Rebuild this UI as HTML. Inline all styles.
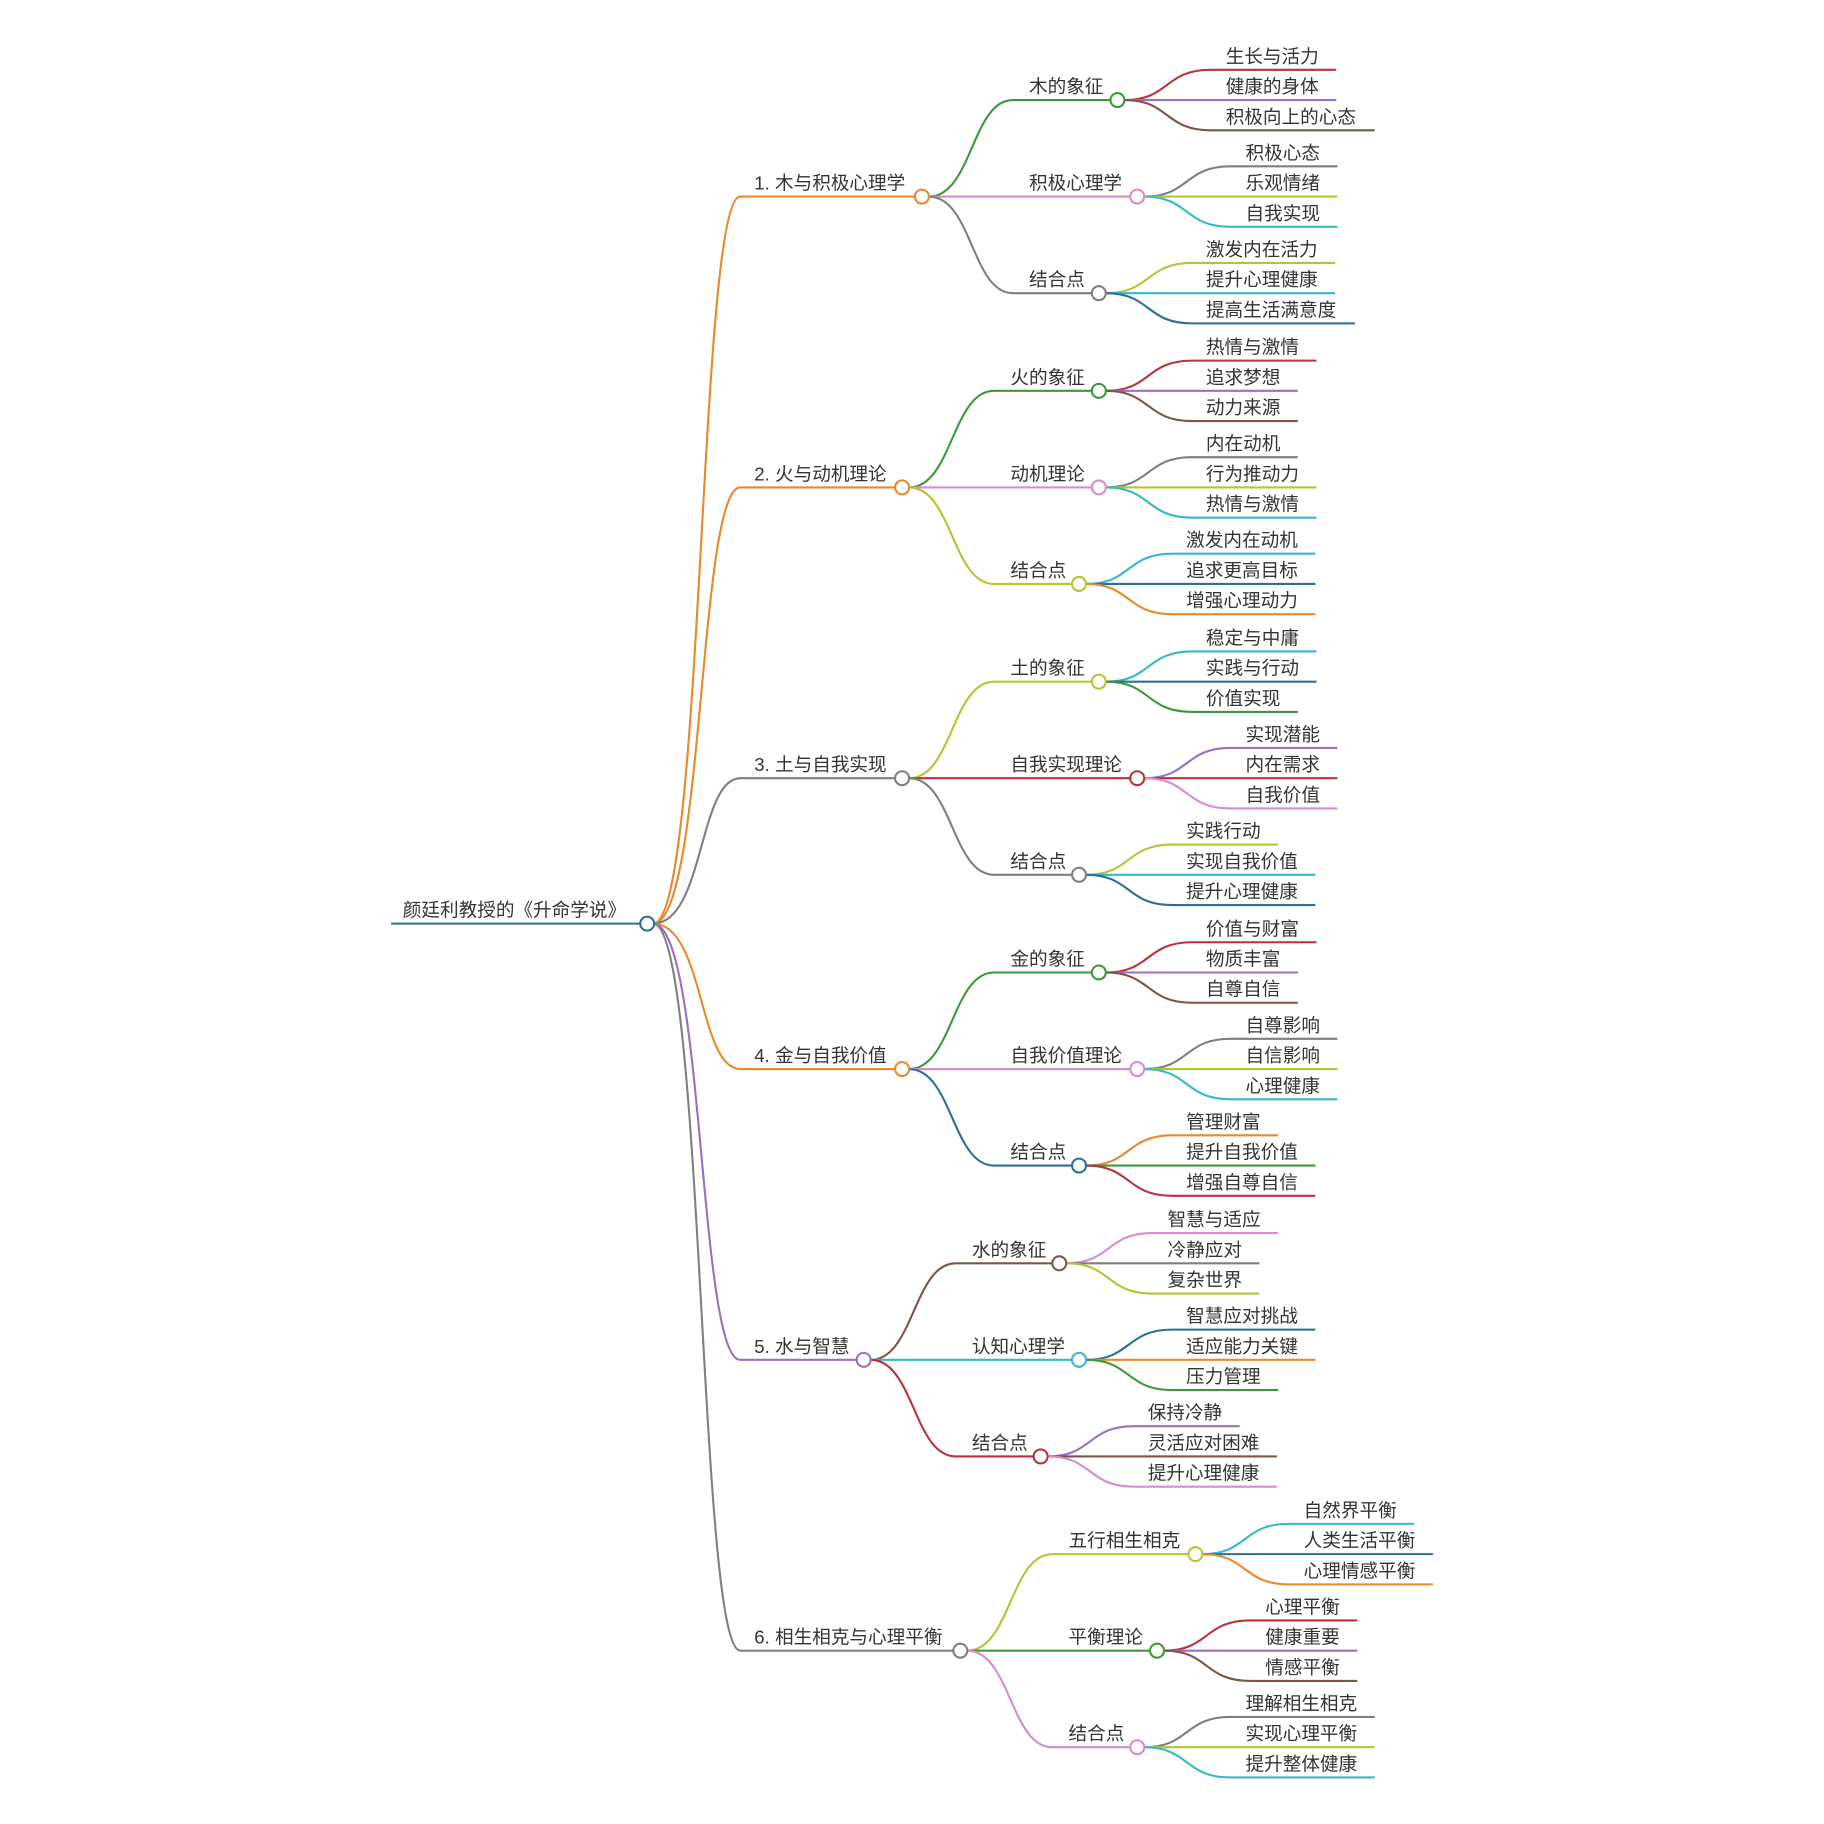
<!DOCTYPE html>
<html><head><meta charset="utf-8"><style>
html,body{margin:0;padding:0;background:#fff;}
svg{display:block}
text{font-family:"Liberation Sans","Noto Sans CJK SC",sans-serif;font-size:16px;fill:#333;}
path{fill:none;stroke-width:1.8}
circle{fill:#fff;stroke-width:1.8}
</style></head><body>
<svg width="1824" height="1824" viewBox="0 0 1567 1568" preserveAspectRatio="none" xmlns="http://www.w3.org/2000/svg">
<!-- root -->
<path d="M336 794 L550 794" stroke="#2a6f9a"/>
<text x="346" y="788">颜廷利教授的《升命学说》</text>

<!-- level1 connectors -->
<path d="M561 794 C605 794 600 169 636 169 L786 169" stroke="#e8892b"/>
<path d="M561 794 C605 794 600 419 636 419 L769 419" stroke="#e8892b"/>
<path d="M561 794 C605 794 600 669 636 669 L769 669" stroke="#7f7f7f"/>
<path d="M561 794 C605 794 600 919 636 919 L769 919" stroke="#e8892b"/>
<path d="M561 794 C605 794 600 1169 636 1169 L736 1169" stroke="#9b6fc0"/>
<path d="M561 794 C605 794 600 1419 636 1419 L819 1419" stroke="#7f7f7f"/>
<circle cx="556" cy="794" r="6" stroke="#2a6f9a"/>
<text x="648" y="163">1. 木与积极心理学</text>
<text x="648" y="413">2. 火与动机理论</text>
<text x="648" y="663">3. 土与自我实现</text>
<text x="648" y="913">4. 金与自我价值</text>
<text x="648" y="1163">5. 水与智慧</text>
<text x="648" y="1413">6. 相生相克与心理平衡</text>

<!-- G1 -->
<path d="M798 169 C835 169 835 86 870 86 L954 86" stroke="#3a9a3a"/>
<path d="M798 169 L971 169" stroke="#d98bd0"/>
<path d="M798 169 C835 169 835 252 870 252 L938 252" stroke="#7f7f7f"/>
<circle cx="792" cy="169" r="6" stroke="#e8892b"/>
<text x="884" y="80">木的象征</text><text x="884" y="163">积极心理学</text><text x="884" y="246">结合点</text>
<path d="M966 86 C1005 86 1000 60 1040 60 L1148 60" stroke="#b8323a"/>
<path d="M966 86 L1148 86" stroke="#9b6fc0"/>
<path d="M966 86 C1005 86 1000 112 1040 112 L1181 112" stroke="#7a5548"/>
<circle cx="960" cy="86" r="6" stroke="#3a9a3a"/>
<text x="1053" y="54">生长与活力</text><text x="1053" y="80">健康的身体</text><text x="1053" y="106">积极向上的心态</text>
<path d="M983 169 C1022 169 1017 143 1057 143 L1149 143" stroke="#7f7f7f"/>
<path d="M983 169 L1149 169" stroke="#b8c234"/>
<path d="M983 169 C1022 169 1017 195 1057 195 L1149 195" stroke="#35b9c9"/>
<circle cx="977" cy="169" r="6" stroke="#d98bd0"/>
<text x="1070" y="137">积极心态</text><text x="1070" y="163">乐观情绪</text><text x="1070" y="189">自我实现</text>
<path d="M950 252 C989 252 984 226 1024 226 L1147 226" stroke="#b8c234"/>
<path d="M950 252 L1147 252" stroke="#35b9c9"/>
<path d="M950 252 C989 252 984 278 1024 278 L1164 278" stroke="#2a6f9a"/>
<circle cx="944" cy="252" r="6" stroke="#7f7f7f"/>
<text x="1036" y="220">激发内在活力</text><text x="1036" y="246">提升心理健康</text><text x="1036" y="272">提高生活满意度</text>

<!-- G2 -->
<path d="M781 419 C818 419 818 336 854 336 L938 336" stroke="#3a9a3a"/>
<path d="M781 419 L938 419" stroke="#d98bd0"/>
<path d="M781 419 C818 419 818 502 854 502 L921 502" stroke="#b8c234"/>
<circle cx="775" cy="419" r="6" stroke="#e8892b"/>
<text x="868" y="330">火的象征</text><text x="868" y="413">动机理论</text><text x="868" y="496">结合点</text>
<path d="M950 336 C989 336 984 310 1024 310 L1131 310" stroke="#b8323a"/>
<path d="M950 336 L1115 336" stroke="#9b6fc0"/>
<path d="M950 336 C989 336 984 362 1024 362 L1115 362" stroke="#7a5548"/>
<circle cx="944" cy="336" r="6" stroke="#3a9a3a"/>
<text x="1036" y="304">热情与激情</text><text x="1036" y="330">追求梦想</text><text x="1036" y="356">动力来源</text>
<path d="M950 419 C989 419 984 393 1024 393 L1115 393" stroke="#7f7f7f"/>
<path d="M950 419 L1131 419" stroke="#b8c234"/>
<path d="M950 419 C989 419 984 445 1024 445 L1131 445" stroke="#35b9c9"/>
<circle cx="944" cy="419" r="6" stroke="#d98bd0"/>
<text x="1036" y="387">内在动机</text><text x="1036" y="413">行为推动力</text><text x="1036" y="439">热情与激情</text>
<path d="M933 502 C972 502 967 476 1007 476 L1130 476" stroke="#35b9c9"/>
<path d="M933 502 L1130 502" stroke="#2a6f9a"/>
<path d="M933 502 C972 502 967 528 1007 528 L1130 528" stroke="#e8892b"/>
<circle cx="927" cy="502" r="6" stroke="#b8c234"/>
<text x="1019" y="470">激发内在动机</text><text x="1019" y="496">追求更高目标</text><text x="1019" y="522">增强心理动力</text>

<!-- G3 -->
<path d="M781 669 C818 669 818 586 854 586 L938 586" stroke="#b8c234"/>
<path d="M781 669 L971 669" stroke="#b8323a"/>
<path d="M781 669 C818 669 818 752 854 752 L921 752" stroke="#7f7f7f"/>
<circle cx="775" cy="669" r="6" stroke="#7f7f7f"/>
<text x="868" y="580">土的象征</text><text x="868" y="663">自我实现理论</text><text x="868" y="746">结合点</text>
<path d="M950 586 C989 586 984 560 1024 560 L1131 560" stroke="#35b9c9"/>
<path d="M950 586 L1131 586" stroke="#2a6f9a"/>
<path d="M950 586 C989 586 984 612 1024 612 L1115 612" stroke="#3a9a3a"/>
<circle cx="944" cy="586" r="6" stroke="#b8c234"/>
<text x="1036" y="554">稳定与中庸</text><text x="1036" y="580">实践与行动</text><text x="1036" y="606">价值实现</text>
<path d="M983 669 C1022 669 1017 643 1057 643 L1149 643" stroke="#9b6fc0"/>
<path d="M983 669 L1149 669" stroke="#b8323a"/>
<path d="M983 669 C1022 669 1017 695 1057 695 L1149 695" stroke="#d98bd0"/>
<circle cx="977" cy="669" r="6" stroke="#b8323a"/>
<text x="1070" y="637">实现潜能</text><text x="1070" y="663">内在需求</text><text x="1070" y="689">自我价值</text>
<path d="M933 752 C972 752 967 726 1007 726 L1098 726" stroke="#b8c234"/>
<path d="M933 752 L1130 752" stroke="#35b9c9"/>
<path d="M933 752 C972 752 967 778 1007 778 L1130 778" stroke="#2a6f9a"/>
<circle cx="927" cy="752" r="6" stroke="#7f7f7f"/>
<text x="1019" y="720">实践行动</text><text x="1019" y="746">实现自我价值</text><text x="1019" y="772">提升心理健康</text>

<!-- G4 -->
<path d="M781 919 C818 919 818 836 854 836 L938 836" stroke="#3a9a3a"/>
<path d="M781 919 L971 919" stroke="#d98bd0"/>
<path d="M781 919 C818 919 818 1002 854 1002 L921 1002" stroke="#2a6f9a"/>
<circle cx="775" cy="919" r="6" stroke="#e8892b"/>
<text x="868" y="830">金的象征</text><text x="868" y="913">自我价值理论</text><text x="868" y="996">结合点</text>
<path d="M950 836 C989 836 984 810 1024 810 L1131 810" stroke="#b8323a"/>
<path d="M950 836 L1115 836" stroke="#9b6fc0"/>
<path d="M950 836 C989 836 984 862 1024 862 L1115 862" stroke="#7a5548"/>
<circle cx="944" cy="836" r="6" stroke="#3a9a3a"/>
<text x="1036" y="804">价值与财富</text><text x="1036" y="830">物质丰富</text><text x="1036" y="856">自尊自信</text>
<path d="M983 919 C1022 919 1017 893 1057 893 L1149 893" stroke="#7f7f7f"/>
<path d="M983 919 L1149 919" stroke="#b8c234"/>
<path d="M983 919 C1022 919 1017 945 1057 945 L1149 945" stroke="#35b9c9"/>
<circle cx="977" cy="919" r="6" stroke="#d98bd0"/>
<text x="1070" y="887">自尊影响</text><text x="1070" y="913">自信影响</text><text x="1070" y="939">心理健康</text>
<path d="M933 1002 C972 1002 967 976 1007 976 L1098 976" stroke="#e8892b"/>
<path d="M933 1002 L1130 1002" stroke="#3a9a3a"/>
<path d="M933 1002 C972 1002 967 1028 1007 1028 L1130 1028" stroke="#b8323a"/>
<circle cx="927" cy="1002" r="6" stroke="#2a6f9a"/>
<text x="1019" y="970">管理财富</text><text x="1019" y="996">提升自我价值</text><text x="1019" y="1022">增强自尊自信</text>

<!-- G5 -->
<path d="M748 1169 C785 1169 785 1086 821 1086 L904 1086" stroke="#7a5548"/>
<path d="M748 1169 L921 1169" stroke="#35b9c9"/>
<path d="M748 1169 C785 1169 785 1252 821 1252 L888 1252" stroke="#b8323a"/>
<circle cx="742" cy="1169" r="6" stroke="#9b6fc0"/>
<text x="835" y="1080">水的象征</text><text x="835" y="1163">认知心理学</text><text x="835" y="1246">结合点</text>
<path d="M916 1086 C955 1086 950 1060 990 1060 L1098 1060" stroke="#d98bd0"/>
<path d="M916 1086 L1082 1086" stroke="#7f7f7f"/>
<path d="M916 1086 C955 1086 950 1112 990 1112 L1082 1112" stroke="#b8c234"/>
<circle cx="910" cy="1086" r="6" stroke="#7a5548"/>
<text x="1003" y="1054">智慧与适应</text><text x="1003" y="1080">冷静应对</text><text x="1003" y="1106">复杂世界</text>
<path d="M933 1169 C972 1169 967 1143 1007 1143 L1130 1143" stroke="#2a6f9a"/>
<path d="M933 1169 L1130 1169" stroke="#e8892b"/>
<path d="M933 1169 C972 1169 967 1195 1007 1195 L1098 1195" stroke="#3a9a3a"/>
<circle cx="927" cy="1169" r="6" stroke="#35b9c9"/>
<text x="1019" y="1137">智慧应对挑战</text><text x="1019" y="1163">适应能力关键</text><text x="1019" y="1189">压力管理</text>
<path d="M900 1252 C939 1252 934 1226 974 1226 L1065 1226" stroke="#9b6fc0"/>
<path d="M900 1252 L1097 1252" stroke="#7a5548"/>
<path d="M900 1252 C939 1252 934 1278 974 1278 L1097 1278" stroke="#d98bd0"/>
<circle cx="894" cy="1252" r="6" stroke="#b8323a"/>
<text x="986" y="1220">保持冷静</text><text x="986" y="1246">灵活应对困难</text><text x="986" y="1272">提升心理健康</text>

<!-- G6 -->
<path d="M831 1419 C868 1419 868 1336 904 1336 L1021 1336" stroke="#b8c234"/>
<path d="M831 1419 L988 1419" stroke="#3a9a3a"/>
<path d="M831 1419 C868 1419 868 1502 904 1502 L971 1502" stroke="#d98bd0"/>
<circle cx="825" cy="1419" r="6" stroke="#7f7f7f"/>
<text x="918" y="1330">五行相生相克</text><text x="918" y="1413">平衡理论</text><text x="918" y="1496">结合点</text>
<path d="M1033 1336 C1072 1336 1067 1310 1107 1310 L1215 1310" stroke="#35b9c9"/>
<path d="M1033 1336 L1231 1336" stroke="#2a6f9a"/>
<path d="M1033 1336 C1072 1336 1067 1362 1107 1362 L1231 1362" stroke="#e8892b"/>
<circle cx="1027" cy="1336" r="6" stroke="#b8c234"/>
<text x="1120" y="1304">自然界平衡</text><text x="1120" y="1330">人类生活平衡</text><text x="1120" y="1356">心理情感平衡</text>
<path d="M1000 1419 C1039 1419 1034 1393 1074 1393 L1166 1393" stroke="#b8323a"/>
<path d="M1000 1419 L1166 1419" stroke="#9b6fc0"/>
<path d="M1000 1419 C1039 1419 1034 1445 1074 1445 L1166 1445" stroke="#7a5548"/>
<circle cx="994" cy="1419" r="6" stroke="#3a9a3a"/>
<text x="1087" y="1387">心理平衡</text><text x="1087" y="1413">健康重要</text><text x="1087" y="1439">情感平衡</text>
<path d="M983 1502 C1022 1502 1017 1476 1057 1476 L1181 1476" stroke="#7f7f7f"/>
<path d="M983 1502 L1181 1502" stroke="#b8c234"/>
<path d="M983 1502 C1022 1502 1017 1528 1057 1528 L1181 1528" stroke="#35b9c9"/>
<circle cx="977" cy="1502" r="6" stroke="#d98bd0"/>
<text x="1070" y="1470">理解相生相克</text><text x="1070" y="1496">实现心理平衡</text><text x="1070" y="1522">提升整体健康</text>
</svg>
</body></html>
